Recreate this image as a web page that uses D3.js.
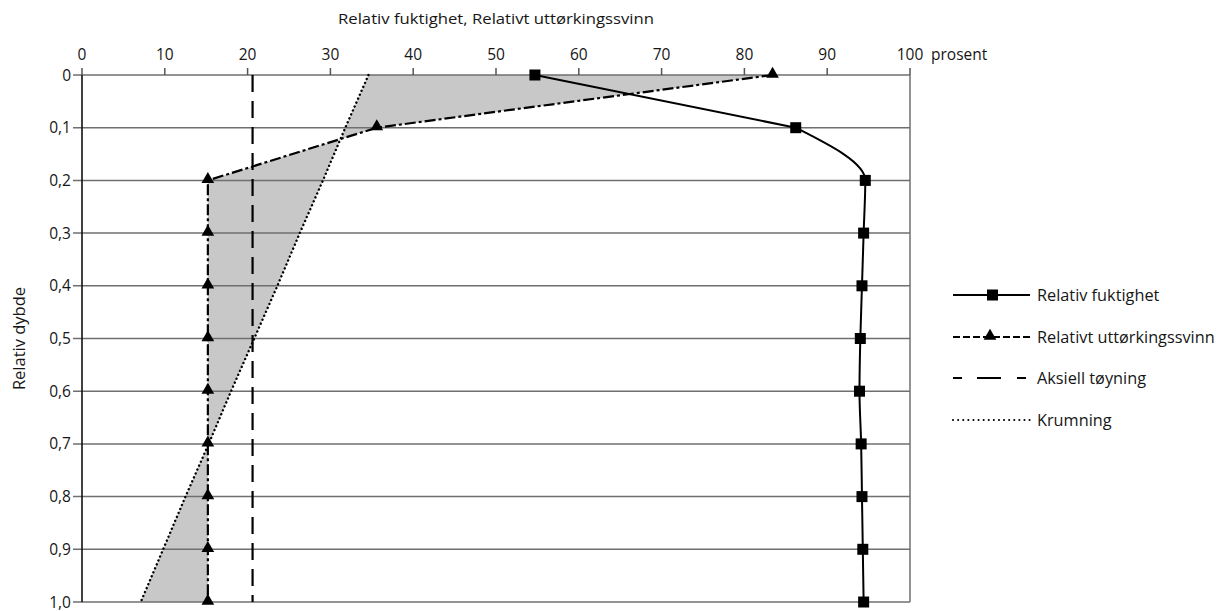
<!DOCTYPE html>
<html>
<head>
<meta charset="utf-8">
<script src="https://cdn.jsdelivr.net/npm/d3@7"></script>
<style>
  html, body { margin: 0; padding: 0; background: #fff; }
  svg text { font-family: "Open Sans", "Noto Sans", sans-serif; fill: #161616; }
</style>
</head>
<body>
<svg id="chart" width="1220" height="611"></svg>
<script>
// Relative depth (0 = surface, 1 = bottom)
const depths = [0, 0.1, 0.2, 0.3, 0.4, 0.5, 0.6, 0.7, 0.8, 0.9, 1.0];
const depthLabels = ["0", "0,1", "0,2", "0,3", "0,4", "0,5", "0,6", "0,7", "0,8", "0,9", "1,0"];
// Percent values along the depth
const humidity  = [54.7, 86.2, 94.6, 94.4, 94.2, 94.0, 93.9, 94.1, 94.2, 94.3, 94.4];
const shrinkage = [83.4, 35.6, 15.2, 15.2, 15.2, 15.2, 15.2, 15.2, 15.2, 15.2, 15.2];
const axialStrain = [20.6, 20.6, 20.6, 20.6, 20.6, 20.6, 20.6, 20.6, 20.6, 20.6, 20.6];
const curvature = [34.6, 31.8, 29.1, 26.3, 23.6, 20.8, 18.0, 15.3, 12.5, 9.8, 7.1];
const xTicks = [0, 10, 20, 30, 40, 50, 60, 70, 80, 90, 100];

const svg = d3.select("#chart");
const x = d3.scaleLinear().domain([0, 100]).range([82, 910]);
const y = d3.scaleLinear().domain([0, 1]).range([75, 602]);

// shaded band between curvature and shrinkage
const band = depths.map((d, i) => ({ d, a: curvature[i], b: shrinkage[i] }));
svg.append("path")
  .datum(band)
  .attr("fill", "#c8c8c8")
  .attr("d", d3.area().y(p => y(p.d)).x0(p => x(p.a)).x1(p => x(p.b)));

// horizontal grid lines with left tick stubs
svg.append("g").selectAll("line").data(depths).join("line")
  .attr("x1", x(0) - 9).attr("x2", x(100))
  .attr("y1", d => y(d)).attr("y2", d => y(d))
  .attr("stroke", "#6f6f6f").attr("stroke-width", 1.5);

// right border
svg.append("line").attr("x1", x(100)).attr("x2", x(100)).attr("y1", y(0)).attr("y2", y(1))
  .attr("stroke", "#6f6f6f").attr("stroke-width", 1.5);

// top axis ticks + labels
const topAxis = svg.append("g");
topAxis.selectAll("line").data(xTicks).join("line")
  .attr("x1", d => x(d)).attr("x2", d => x(d))
  .attr("y1", y(0)).attr("y2", y(0) - 7)
  .attr("stroke", "#555").attr("stroke-width", 1.5);
topAxis.selectAll("text").data(xTicks).join("text")
  .attr("x", d => x(d)).attr("y", 60)
  .attr("text-anchor", "middle").attr("font-size", 15.5)
  .text(d => d);
svg.append("text").attr("x", x(100) + 21).attr("y", 60).attr("font-size", 15.5).text("prosent");
svg.append("text").attr("x", x(50)).attr("y", 24).attr("text-anchor", "middle")
  .attr("font-size", 15.2).attr("textLength", 316).attr("lengthAdjust", "spacingAndGlyphs")
  .text("Relativ fuktighet, Relativt uttørkingssvinn");

// left axis
svg.append("line").attr("x1", x(0)).attr("x2", x(0)).attr("y1", y(0)).attr("y2", y(1))
  .attr("stroke", "#111").attr("stroke-width", 1.6);
svg.append("g").selectAll("text").data(depths).join("text")
  .attr("x", 71).attr("y", d => y(d) + 5.5)
  .attr("text-anchor", "end").attr("font-size", 15.5)
  .text((d, i) => depthLabels[i]);
svg.append("text").attr("transform", `translate(25,${y(0.5)}) rotate(-90)`)
  .attr("text-anchor", "middle").attr("font-size", 16.5).text("Relativ dybde");

// series lines
const line = vals => d3.line().x((d, i) => x(vals[i])).y(d => y(d));
svg.append("path").datum(depths).attr("fill", "none").attr("stroke", "#000")
  .attr("stroke-width", 2.2).attr("stroke-dasharray", "17,9")
  .attr("d", line(axialStrain));
svg.append("path").datum(depths).attr("fill", "none").attr("stroke", "#000")
  .attr("stroke-width", 2.4).attr("stroke-dasharray", "0.1,4.2").attr("stroke-linecap", "round")
  .attr("d", line(curvature));
svg.append("path").datum(depths).attr("fill", "none").attr("stroke", "#000")
  .attr("stroke-width", 2.2).attr("stroke-dasharray", "11,3,3,3")
  .attr("d", line(shrinkage));
// humidity: straight near the surface, smooth below
svg.append("path").datum(depths.slice(0, 2)).attr("fill", "none").attr("stroke", "#000")
  .attr("stroke-width", 2)
  .attr("d", d3.line().x((d, i) => x(humidity[i])).y(d => y(d)));
svg.append("path").datum(depths.slice(1)).attr("fill", "none").attr("stroke", "#000")
  .attr("stroke-width", 2)
  .attr("d", d3.line().curve(d3.curveMonotoneY).x((d, i) => x(humidity[i + 1])).y(d => y(d)));

// markers
const tri = d3.symbol().type(d3.symbolTriangle).size(70);
svg.append("g").selectAll("path").data(depths).join("path")
  .attr("d", tri).attr("fill", "#000")
  .attr("transform", (d, i) => `translate(${x(shrinkage[i])},${y(d) - 1})`);
svg.append("g").selectAll("rect").data(depths).join("rect")
  .attr("x", (d, i) => x(humidity[i]) - 5.5).attr("y", d => y(d) - 5.5)
  .attr("width", 11).attr("height", 11).attr("fill", "#000");

// legend
const legend = [
  { name: "Relativ fuktighet", dash: null, marker: "square", cap: "butt" },
  { name: "Relativt uttørkingssvinn", dash: "7,3", marker: "triangle", cap: "butt" },
  { name: "Aksiell tøyning", dash: "9,15,24,16,9", marker: null, cap: "butt" },
  { name: "Krumning", dash: "0.1,5", marker: null, cap: "round" }
];
const ly = [295, 337, 378, 420];
const lg = svg.append("g");
legend.forEach((item, i) => {
  const g = lg.append("g").attr("transform", `translate(0,${ly[i]})`);
  g.append("line").attr("x1", 953).attr("x2", 1030).attr("y1", 0).attr("y2", 0)
    .attr("stroke", "#000").attr("stroke-width", 2)
    .attr("stroke-dasharray", item.dash)
    .attr("stroke-linecap", item.cap);
  if (item.marker === "square") {
    g.append("rect").attr("x", 987).attr("y", -5.5).attr("width", 11).attr("height", 11).attr("fill", "#000");
  } else if (item.marker === "triangle") {
    g.append("path").attr("d", tri).attr("fill", "#000").attr("transform", "translate(990,-1)");
  }
  g.append("text").attr("x", 1037).attr("y", 5.5).attr("font-size", 16.3).text(item.name);
});
</script>
</body>
</html>
